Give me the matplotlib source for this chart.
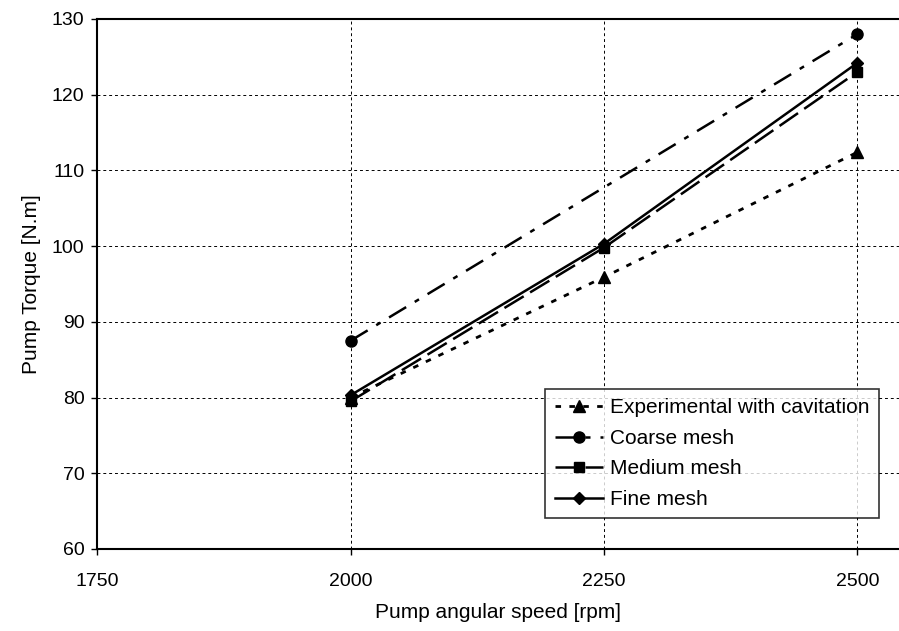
import matplotlib
matplotlib.use("Agg")
import matplotlib.pyplot as plt

plt.rcParams['font.family'] = ['Liberation Sans', 'DejaVu Sans']

speeds = [2000, 2250, 2500]
experimental = [80.0, 95.9, 112.4]
coarse_speeds = [2000, 2500]
coarse = [87.5, 128.0]
medium = [79.5, 99.8, 123.0]
fine = [80.3, 100.3, 124.2]


def main():
    fig = plt.figure(figsize=(8.99, 6.31), dpi=100)
    ax = fig.add_axes([0.108, 0.130, 0.892, 0.840])

    ax.plot(speeds, experimental, color='black', linestyle=(0, (2, 3)),
            linewidth=2, marker='^', markersize=8, label='Experimental with cavitation')
    ax.plot(coarse_speeds, coarse, color='black', linestyle=(0, (8, 4, 2, 4)),
            linewidth=1.8, marker='o', markersize=8, label='Coarse mesh')
    ax.plot(speeds, medium, color='black', linestyle=(0, (9, 3)),
            linewidth=1.8, marker='s', markersize=7.5, label='Medium mesh')
    ax.plot(speeds, fine, color='black', linestyle='-',
            linewidth=1.8, marker='D', markersize=6, label='Fine mesh')

    ax.set_xlim(1750, 2541)
    ax.set_ylim(60, 130)
    ax.set_xticks([1750, 2000, 2250, 2500])
    ax.set_yticks(range(60, 131, 10))
    ax.tick_params(labelsize=14, direction='out', length=4, width=1)
    ax.tick_params(axis='x', pad=13)
    ax.tick_params(axis='y', pad=5)
    ax.grid(True, color='black', linestyle=(0, (3, 3)), linewidth=0.7)

    ax.spines['right'].set_visible(False)
    for side in ['left', 'bottom', 'top']:
        ax.spines[side].set_linewidth(1.5)

    ax.set_xlabel('Pump angular speed [rpm]', fontsize=15, labelpad=10)
    ax.set_ylabel('Pump Torque [N.m]', fontsize=15, labelpad=8)

    leg = ax.legend(loc='lower right', bbox_to_anchor=(0.975, 0.058), fontsize=15,
                    frameon=True, fancybox=False, edgecolor='black',
                    handlelength=2.3, handletextpad=0.35, borderpad=0.45,
                    labelspacing=0.55, borderaxespad=0)
    leg.get_frame().set_linewidth(1.2)

    fig.savefig('out.png', dpi=100)


if __name__ == "__main__":
    main()
